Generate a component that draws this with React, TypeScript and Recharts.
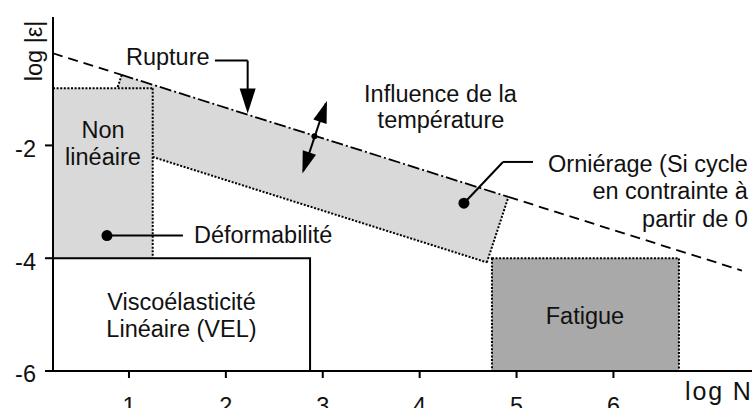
import React from 'react';
import {
  ComposedChart,
  XAxis,
  YAxis,
  Area,
  ReferenceArea,
  ReferenceLine,
  ReferenceDot,
} from 'recharts';

const FONT = '"Liberation Sans", Arial, Helvetica, sans-serif';
const FS = 23.5;
const INK = '#111111';
const LIGHT = '#d9d9d9';
const DARK = '#a9a9a9';

// Axes
const xTicks = [1, 2, 3, 4, 5, 6];
const yTicks = [-6, -4, -2];
const xDomain = [0.216, 7.43];
const yDomain = [-6, 0.277];

// Domains (log N, log |ε|)
const nonLinearBox = { x1: 0.216, x2: 1.245, y1: -4, y2: -0.986 };
const velBox = { x1: 0.216, x2: 2.869, y1: -6, y2: -4 };
const fatigueBox = { x1: 4.746, x2: 6.676, y1: -6, y2: -4 };

// Rupture / orniérage band (parallelogram), as a range area
const ruptureBand = [
  { x: 0.703, range: [-1.911, -1.911] },
  { x: 0.925, range: [-2.031, -0.75] },
  { x: 4.694, range: [-4.074, -2.793] },
  { x: 4.916, range: [-2.913, -2.913] },
];

// Rupture line
const ruptureDashedLeft = [{ x: 0.216, y: -0.366 }, { x: 0.925, y: -0.75 }];
const ruptureDashDot = [{ x: 0.925, y: -0.75 }, { x: 4.916, y: -2.913 }];
const ruptureDashedRight = [{ x: 4.916, y: -2.913 }, { x: 7.326, y: -4.219 }];

// Dotted borders
const dottedEdges = [
  [{ x: 0.216, y: -0.986 }, { x: 1.245, y: -0.986 }],
  [{ x: 1.245, y: -0.986 }, { x: 1.245, y: -4 }],
  [{ x: 0.925, y: -0.75 }, { x: 0.88, y: -0.986 }],
  [{ x: 1.245, y: -2.205 }, { x: 4.694, y: -4.074 }],
  [{ x: 4.694, y: -4.074 }, { x: 4.916, y: -2.913 }],
];

// Leader lines
const leaders = [
  [{ x: 1.887, y: -0.496 }, { x: 2.225, y: -0.496 }],
  [{ x: 2.225, y: -0.496 }, { x: 2.225, y: -1.05 }],
  [{ x: 2.8, y: -2.45 }, { x: 3.03, y: -1.26 }],
  [{ x: 4.457, y: -3.025 }, { x: 4.86, y: -2.293 }],
  [{ x: 4.86, y: -2.293 }, { x: 5.17, y: -2.293 }],
  [{ x: 0.773, y: -3.599 }, { x: 1.557, y: -3.599 }],
];

// Arrow heads (tip position, pointing direction in degrees)
const arrowHeads = [
  { x: 2.225, y: -1.433, angle: 90, big: true },
  { x: 3.043, y: -1.211, angle: -71.5, big: false },
  { x: 2.79, y: -2.496, angle: 108.5, big: false },
];

// Marker dots
const markers = [
  { x: 0.773, y: -3.599, small: false },
  { x: 4.457, y: -3.025, small: false },
  { x: 2.914, y: -1.838, small: true },
];

// Text annotations (baseline positions)
const labels = [
  { text: 'Rupture', x: 0.969, y: -0.573, anchor: 'start' },
  { text: 'Influence de la', x: 4.215, y: -1.223, anchor: 'middle' },
  { text: 'température', x: 4.22, y: -1.695, anchor: 'middle' },
  { text: 'Orniérage (Si cycle', x: 7.388, y: -2.465, anchor: 'end' },
  { text: 'en contrainte à', x: 7.388, y: -2.954, anchor: 'end' },
  { text: 'partir de 0', x: 7.388, y: -3.445, anchor: 'end' },
  { text: 'Déformabilité', x: 1.671, y: -3.734, anchor: 'start' },
  { text: 'Non', x: 0.732, y: -1.872, anchor: 'middle' },
  { text: 'linéaire', x: 0.732, y: -2.355, anchor: 'middle' },
  { text: 'Viscoélasticité', x: 1.542, y: -4.917, anchor: 'middle' },
  { text: 'Linéaire (VEL)', x: 1.542, y: -5.404, anchor: 'middle' },
  { text: 'Fatigue', x: 5.706, y: -5.165, anchor: 'middle' },
];

const yAxisTitle = { text: 'log |ε|', x: 0.102, y: -0.324 };
const xAxisTitle = { text: 'log N', x: 7.419, y: -6.512 };

const XTick = (props: any) => {
  const { x, y, payload } = props;
  return (
    <text x={x} y={y} dy="0.71em" textAnchor="middle" fill={INK} fontFamily={FONT} fontSize={FS}>
      {payload.value}
    </text>
  );
};

const YTick = (props: any) => {
  const { x, y, payload } = props;
  return (
    <text x={x} y={y + 3} dy="0.355em" textAnchor="end" fill={INK} fontFamily={FONT} fontSize={FS}>
      {payload.value}
    </text>
  );
};

export default function App() {
  return (
    <div style={{ position: 'absolute', left: 0, top: 0, width: 752, height: 408, background: '#fff' }}>
      <ComposedChart width={752} height={408} margin={{ top: 17, right: 0, bottom: 0, left: 0 }}>
        <XAxis
          type="number"
          dataKey="x"
          domain={xDomain}
          ticks={xTicks}
          allowDataOverflow
          height={37}
          tickSize={7}
          tickMargin={19}
          axisLine={{ stroke: '#000', strokeWidth: 2 }}
          tickLine={{ stroke: '#000', strokeWidth: 2 }}
          tick={<XTick />}
        />
        <YAxis
          type="number"
          domain={yDomain}
          ticks={yTicks}
          allowDataOverflow
          width={53}
          tickSize={8}
          tickMargin={9}
          axisLine={{ stroke: '#000', strokeWidth: 2 }}
          tickLine={{ stroke: '#000', strokeWidth: 2 }}
          tick={<YTick />}
        />

        <Area
          data={ruptureBand}
          dataKey="range"
          type="linear"
          stroke="none"
          fill={LIGHT}
          fillOpacity={1}
          isAnimationActive={false}
          dot={false}
          activeDot={false}
        />

        <ReferenceArea {...nonLinearBox} fill={LIGHT} fillOpacity={1} stroke="none" ifOverflow="visible" />
        <ReferenceArea {...velBox} fill="#ffffff" fillOpacity={1} stroke="#000" strokeWidth={2} ifOverflow="visible" />
        <ReferenceArea
          {...fatigueBox}
          fill={DARK}
          fillOpacity={1}
          stroke="#000"
          strokeWidth={2}
          strokeDasharray="2 1.6"
          ifOverflow="visible"
        />

        {dottedEdges.map((seg, i) => (
          <ReferenceLine
            key={`dot-${i}`}
            segment={seg}
            stroke="#000"
            strokeWidth={2}
            strokeDasharray="2 1.6"
            ifOverflow="visible"
          />
        ))}

        <ReferenceLine segment={ruptureDashedLeft} stroke="#000" strokeWidth={1.8} strokeDasharray="10 6" ifOverflow="visible" />
        <ReferenceLine segment={ruptureDashDot} stroke="#000" strokeWidth={1.8} strokeDasharray="12 3 2 3" ifOverflow="visible" />
        <ReferenceLine segment={ruptureDashedRight} stroke="#000" strokeWidth={1.8} strokeDasharray="10 6" ifOverflow="visible" />

        {leaders.map((seg, i) => (
          <ReferenceLine key={`lead-${i}`} segment={seg} stroke="#000" strokeWidth={2} ifOverflow="visible" />
        ))}

        {arrowHeads.map((a, i) => (
          <ReferenceDot
            key={`arrow-${i}`}
            x={a.x}
            y={a.y}
            r={1}
            ifOverflow="visible"
            shape={(p: any) => {
              const L = a.big ? 25 : 22;
              const W = a.big ? 16 : 14;
              return (
                <polygon
                  points={`0,0 ${-L},${-W / 2} ${-L},${W / 2}`}
                  fill="#000"
                  transform={`translate(${p.cx},${p.cy}) rotate(${a.angle})`}
                />
              );
            }}
          />
        ))}

        {markers.map((m, i) => (
          <ReferenceDot
            key={`mk-${i}`}
            x={m.x}
            y={m.y}
            r={m.small ? 3 : 5.5}
            fill="#000"
            stroke="none"
            ifOverflow="visible"
          />
        ))}

        {labels.map((l, i) => (
          <ReferenceDot
            key={`lbl-${i}`}
            x={l.x}
            y={l.y}
            r={1}
            ifOverflow="visible"
            shape={(p: any) => (
              <text
                x={p.cx}
                y={p.cy}
                textAnchor={l.anchor}
                fill={INK}
                fontFamily={FONT}
                fontSize={FS}
              >
                {l.text}
              </text>
            )}
          />
        ))}

        <ReferenceDot
          x={yAxisTitle.x}
          y={yAxisTitle.y}
          r={1}
          ifOverflow="visible"
          shape={(p: any) => (
            <text
              x={p.cx}
              y={p.cy}
              textAnchor="middle"
              fill={INK}
              fontFamily={FONT}
              fontSize={FS}
              transform={`rotate(-90, ${p.cx}, ${p.cy})`}
            >
              {yAxisTitle.text}
            </text>
          )}
        />
        <ReferenceDot
          x={xAxisTitle.x}
          y={xAxisTitle.y}
          r={1}
          ifOverflow="visible"
          shape={(p: any) => (
            <text
              x={p.cx}
              y={p.cy}
              textAnchor="end"
              fill={INK}
              fontFamily={FONT}
              fontSize={25}
              textLength={66}
              lengthAdjust="spacing"
            >
              {xAxisTitle.text}
            </text>
          )}
        />
      </ComposedChart>
    </div>
  );
}
